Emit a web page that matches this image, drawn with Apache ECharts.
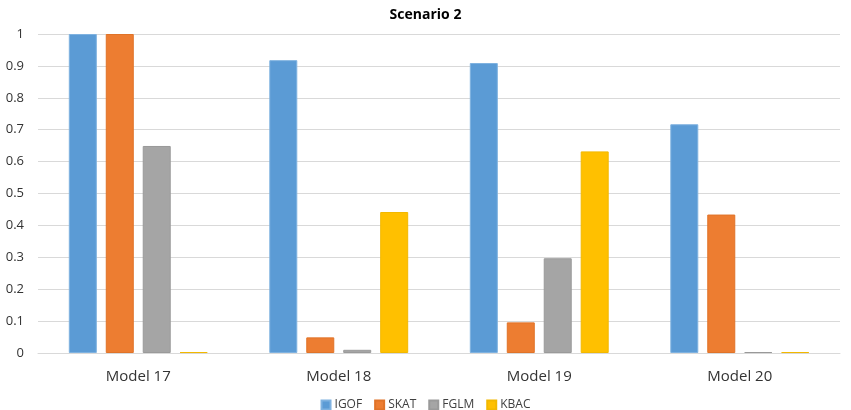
<!DOCTYPE html>
<html>
<head>
<meta charset="utf-8">
<script src="https://cdn.jsdelivr.net/npm/echarts@6/dist/echarts.min.js"></script>
<style>
  html, body { margin: 0; padding: 0; background: #fff; }
  #box { width: 851px; height: 410px; }
</style>
</head>
<body>
<div id="box"></div>
<script>
const categories = ['Model 17', 'Model 18', 'Model 19', 'Model 20'];
const seriesNames = ['IGOF', 'SKAT', 'FGLM', 'KBAC'];
const igof = [1, 0.918, 0.909, 0.717];
const skat = [1, 0.049, 0.096, 0.434];
const fglm = [0.649, 0.01, 0.297, 0.003];
const kbac = [0.003, 0.442, 0.632, 0.003];
const yTicks = [0, 0.1, 0.2, 0.3, 0.4, 0.5, 0.6, 0.7, 0.8, 0.9, 1];

const colors = ['#5B9BD5', '#ED7D31', '#A5A5A5', '#FFC000'];
const borders = ['#7FB2E0', '#E07328', '#9A9A9A', '#F2B800'];
const values = [igof, skat, fglm, kbac];

const chart = echarts.init(document.getElementById('box'));

const option = {
  animation: false,
  title: {
    text: 'Scenario 2',
    left: 'center',
    top: 3,
    textStyle: {
      fontFamily: 'Open Sans',
      fontSize: 14,
      fontWeight: 'bold',
      color: '#000'
    }
  },
  legend: {
    data: seriesNames,
    bottom: -6,
    left: 'center',
    itemWidth: 9,
    itemHeight: 9,
    itemGap: 12,
    icon: 'rect',
    textStyle: {
      fontFamily: 'Open Sans',
      fontSize: 12,
      color: '#404040',
      padding: [0, 0, 0, -1]
    }
  },
  grid: {
    left: 38,
    right: 11,
    top: 34,
    bottom: 57,
    containLabel: false,
    outerBoundsMode: 'none'
  },
  xAxis: {
    type: 'category',
    data: categories,
    axisTick: { show: false },
    axisLine: { lineStyle: { color: '#d9d9d9' } },
    axisLabel: {
      fontFamily: 'Open Sans',
      fontSize: 15,
      color: '#333',
      margin: 16
    }
  },
  yAxis: {
    type: 'value',
    min: 0,
    max: 1,
    interval: 0.1,
    axisLine: { show: false },
    axisTick: { show: false },
    splitLine: { lineStyle: { color: '#d9d9d9' } },
    axisLabel: {
      fontFamily: 'Open Sans',
      fontSize: 13,
      color: '#333',
      margin: 14,
      formatter: v => {
        const t = yTicks.find(x => Math.abs(x - v) < 1e-9);
        return t === undefined ? '' : String(t);
      }
    }
  },
  series: seriesNames.map((name, i) => ({
    name: name,
    type: 'bar',
    data: values[i],
    barWidth: 28,
    barGap: '32%',
    itemStyle: {
      color: colors[i],
      borderColor: borders[i],
      borderWidth: 1
    }
  }))
};

chart.setOption(option);
</script>
</body>
</html>
